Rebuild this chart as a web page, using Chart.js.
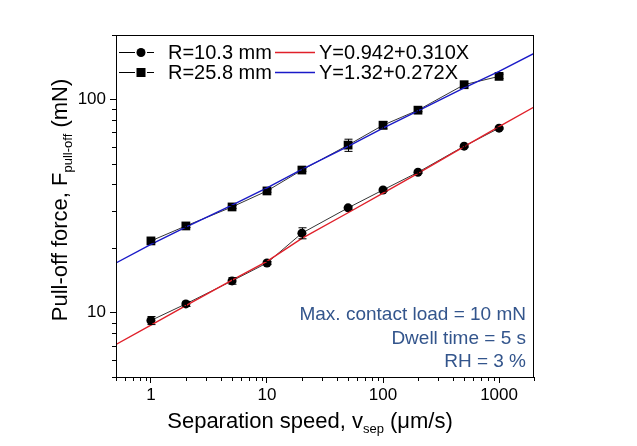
<!DOCTYPE html>
<html>
<head>
<meta charset="utf-8">
<script src="https://cdn.jsdelivr.net/npm/chart.js@4/dist/chart.umd.min.js"></script>
<style>
  body { margin: 0; background: #fff; }
  canvas { display: block; }
</style>
</head>
<body>
<canvas id="pulloff" width="637" height="446"></canvas>
<script>
const FONT = "'Liberation Sans', Arial, sans-serif";

// measured points
const speeds = [1, 2, 5, 10, 20, 50, 100, 200, 500, 1000];
const forceR103 = [9.2, 11.0, 14.1, 17.1, 23.6, 31.0, 37.6, 45.5, 60.3, 73.2];
const errR103 = [0.4, 0.3, 0.5, 0.3, 1.4, 0.5, 0.5, 0.5, 0.7, 0.7];
const forceR258 = [21.7, 25.5, 31.3, 37.2, 46.6, 61.0, 75.6, 88.9, 117, 128];
const errR258 = [0.4, 0.4, 0.5, 0.5, 0.6, 4.0, 3.0, 1.5, 1.5, 3.0];

// fitted lines
const fitSpeeds = [0.5, 1, 2, 5, 10, 20, 50, 100, 200, 500, 1000, 2000];
const fitR103 = [7.1, 8.75, 10.8, 14.2, 17.4, 22.3, 29.4, 36.3, 45.0, 60.0, 74.5, 92];
const fitR258 = [17.1, 20.9, 25.2, 31.9, 38.5, 46.9, 60.2, 73.2, 88.2, 113, 135, 164];

// axis ticks
const xTicks = [0.5, 0.6, 0.7, 0.8, 0.9, 1, 2, 3, 4, 5, 6, 7, 8, 9, 10, 20, 30, 40, 50, 60, 70, 80, 90,
  100, 200, 300, 400, 500, 600, 700, 800, 900, 1000, 2000];
const xLabels = [1, 10, 100, 1000];
const yTicks = [5, 6, 7, 8, 9, 10, 20, 30, 40, 50, 60, 70, 80, 90, 100, 200];
const yLabels = [10, 100];

const pts = (xs, ys) => xs.map((x, i) => ({ x: x, y: ys[i] }));

function setTicks(values, labels) {
  return function (scale) {
    scale.ticks = values.map(v => ({ value: v, major: labels.includes(v) }));
  };
}

const errorBars = {
  id: 'errorBars',
  afterDatasetsDraw(chart) {
    const ctx = chart.ctx;
    const xs = chart.scales.x, ys = chart.scales.y;
    ctx.save();
    ctx.strokeStyle = '#000';
    ctx.lineWidth = 1;
    chart.data.datasets.forEach(ds => {
      if (!ds.yErr) return;
      ds.data.forEach((p, i) => {
        const e = ds.yErr[i];
        const px = Math.round(xs.getPixelForValue(p.x)) + 0.5;
        const top = ys.getPixelForValue(p.y + e);
        const bot = ys.getPixelForValue(p.y - e);
        ctx.beginPath();
        ctx.moveTo(px, top); ctx.lineTo(px, bot);
        ctx.moveTo(px - 4, top); ctx.lineTo(px + 4, top);
        ctx.moveTo(px - 4, bot); ctx.lineTo(px + 4, bot);
        ctx.stroke();
      });
    });
    ctx.restore();
  }
};

function drawSub(ctx, parts, x, y) {
  // parts: [text, size, dy]
  let cx = x;
  parts.forEach(p => {
    ctx.font = p[1] + 'px ' + FONT;
    ctx.fillText(p[0], cx, y + p[2]);
    cx += ctx.measureText(p[0]).width;
  });
}
function subWidth(ctx, parts) {
  let w = 0;
  parts.forEach(p => { ctx.font = p[1] + 'px ' + FONT; w += ctx.measureText(p[0]).width; });
  return w;
}

const decorations = {
  id: 'decorations',
  afterDraw(chart) {
    const ctx = chart.ctx;
    const a = chart.chartArea;
    const xs = chart.scales.x, ys = chart.scales.y;
    ctx.save();

    // frame
    ctx.strokeStyle = '#000';
    ctx.lineWidth = 1;
    ctx.strokeRect(Math.round(a.left) + 0.5, Math.round(a.top) + 0.5,
      Math.round(a.right - a.left) - 1, Math.round(a.bottom - a.top));

    // minor ticks
    ctx.beginPath();
    xTicks.filter(v => !xLabels.includes(v)).forEach(v => {
      const px = Math.round(xs.getPixelForValue(v)) + 0.5;
      ctx.moveTo(px, a.bottom); ctx.lineTo(px, a.bottom + 4);
    });
    yTicks.filter(v => !yLabels.includes(v)).forEach(v => {
      const py = Math.round(ys.getPixelForValue(v)) + 0.5;
      ctx.moveTo(a.left, py); ctx.lineTo(a.left - 4, py);
    });
    ctx.stroke();

    // axis titles
    ctx.fillStyle = '#000';
    ctx.textBaseline = 'alphabetic';
    ctx.textAlign = 'left';
    const xTitle = [['Separation speed, v', 22, 0], ['sep', 13, 5], [' (\u03bcm/s)', 22, 0]];
    drawSub(ctx, xTitle, 310 - subWidth(ctx, xTitle) / 2, 428);

    const yTitle = [['Pull-off force, F', 22, 0], ['pull-off', 13, 5], [' (mN)', 22, 0]];
    ctx.save();
    ctx.translate(67, 200);
    ctx.rotate(-Math.PI / 2);
    drawSub(ctx, yTitle, -subWidth(ctx, yTitle) / 2, 0);
    ctx.restore();

    // legend
    ctx.font = '20px ' + FONT;
    const rows = [
      { y: 52, label: 'R=10.3 mm', fit: 'Y=0.942+0.310X', color: '#e0202a', shape: 'circle' },
      { y: 72, label: 'R=25.8 mm', fit: 'Y=1.32+0.272X', color: '#1a1ac8', shape: 'rect' }
    ];
    rows.forEach(r => {
      ctx.strokeStyle = '#000';
      ctx.lineWidth = 1;
      ctx.beginPath();
      ctx.moveTo(119, r.y + 0.5); ctx.lineTo(135, r.y + 0.5);
      ctx.moveTo(147, r.y + 0.5); ctx.lineTo(154, r.y + 0.5);
      ctx.stroke();
      ctx.fillStyle = '#000';
      if (r.shape === 'circle') {
        ctx.beginPath(); ctx.arc(141, r.y + 0.5, 4.5, 0, Math.PI * 2); ctx.fill();
      } else {
        ctx.fillRect(136.5, r.y - 4, 9, 9);
      }
      ctx.fillText(r.label, 168, r.y + 7);
      ctx.strokeStyle = r.color;
      ctx.lineWidth = 1.3;
      ctx.beginPath();
      ctx.moveTo(275, r.y + 0.5); ctx.lineTo(315, r.y + 0.5);
      ctx.stroke();
      ctx.fillText(r.fit, 319, r.y + 7);
    });

    // conditions
    ctx.fillStyle = '#33558c';
    ctx.font = '19px ' + FONT;
    ctx.textAlign = 'right';
    ctx.fillText('Max. contact load = 10 mN', 526, 320);
    ctx.fillText('Dwell time = 5 s', 526, 344);
    ctx.fillText('RH = 3 %', 526, 367);
    ctx.restore();
  }
};

new Chart(document.getElementById('pulloff').getContext('2d'), {
  type: 'scatter',
  data: {
    datasets: [
      {
        data: pts(fitSpeeds, fitR103),
        showLine: true,
        borderColor: '#e0202a',
        borderWidth: 1.4,
        pointRadius: 0
      },
      {
        data: pts(fitSpeeds, fitR258),
        showLine: true,
        borderColor: '#1a1ac8',
        borderWidth: 1.4,
        pointRadius: 0
      },
      {
        data: pts(speeds, forceR103),
        yErr: errR103,
        showLine: true,
        borderColor: '#000',
        borderWidth: 0.8,
        backgroundColor: '#000',
        pointStyle: 'circle',
        pointRadius: 4.5,
        pointBorderWidth: 0
      },
      {
        data: pts(speeds, forceR258),
        yErr: errR258,
        showLine: true,
        borderColor: '#000',
        borderWidth: 0.8,
        backgroundColor: '#000',
        pointStyle: 'rect',
        pointRadius: 6.2,
        pointBorderWidth: 0
      }
    ]
  },
  options: {
    responsive: false,
    animation: false,
    layout: { padding: { top: 35, right: 103, left: 0, bottom: 0 } },
    plugins: { legend: { display: false }, tooltip: { enabled: false } },
    scales: {
      x: {
        type: 'logarithmic',
        min: 0.5,
        max: 2000,
        afterBuildTicks: setTicks(xTicks, xLabels),
        afterFit: s => { s.height = 69; },
        ticks: {
          autoSkip: false,
          maxRotation: 0,
          padding: 2,
          color: '#000',
          font: { family: FONT, size: 17 },
          callback: v => xLabels.includes(v) ? String(v) : ''
        },
        grid: {
          drawOnChartArea: false,
          tickLength: 6,
          tickColor: c => (c.tick && c.tick.major) ? '#000' : 'rgba(0,0,0,0)'
        },
        border: { color: '#000', width: 1 }
      },
      y: {
        type: 'logarithmic',
        min: 5,
        max: 200,
        afterBuildTicks: setTicks(yTicks, yLabels),
        afterFit: s => { s.width = 116; },
        ticks: {
          autoSkip: false,
          padding: 4,
          color: '#000',
          font: { family: FONT, size: 17 },
          callback: v => yLabels.includes(v) ? String(v) : ''
        },
        grid: {
          drawOnChartArea: false,
          tickLength: 6,
          tickColor: c => (c.tick && c.tick.major) ? '#000' : 'rgba(0,0,0,0)'
        },
        border: { color: '#000', width: 1 }
      }
    }
  },
  plugins: [errorBars, decorations]
});
</script>
</body>
</html>
